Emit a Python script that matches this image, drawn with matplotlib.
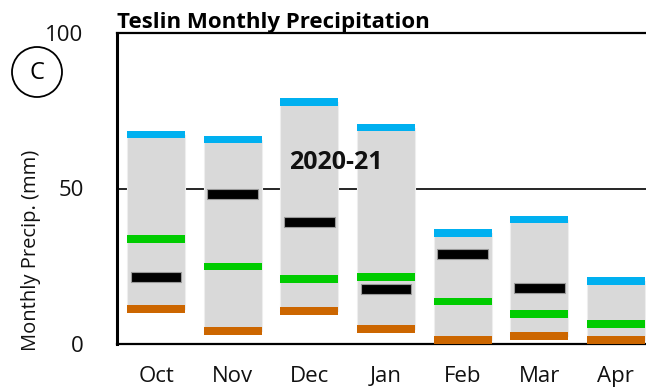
import matplotlib
matplotlib.use("Agg")
import matplotlib.pyplot as plt
from matplotlib.patches import Ellipse
import numpy as np

# monthly precipitation (mm)
months = ["Oct", "Nov", "Dec", "Jan", "Feb", "Mar", "Apr"]
max_precip = [67.3, 65.7, 77.8, 69.6, 35.7, 40.0, 20.3]
median_precip = [33.8, 24.9, 20.9, 21.5, 13.7, 9.7, 6.5]
min_precip = [11.4, 4.3, 10.7, 4.7, 1.3, 2.7, 1.3]
season_2020_21 = [21.4, 48.3, 39.2, 17.7, 28.9, 18.0, np.nan]

plt.rcParams['font.family'] = ['Open Sans', 'DejaVu Sans']

fig = plt.figure(figsize=(6.46, 3.91), dpi=100)
ax = fig.add_axes([117 / 646, 47 / 391, 538 / 646, 311 / 391])

x = np.arange(len(months))
width = 0.76
mx = np.array(max_precip)
mn = np.array(min_precip)

# 50 mm reference line behind the bars
ax.axhline(50, color="black", lw=1.2, zorder=0)

ax.bar(x, mx - mn, bottom=mn, width=width, color="#d9d9d9",
       edgecolor="#eeeeee", lw=0.8, zorder=1)

def band(vals, thick, color, w=width, edge="none"):
    v = np.array(vals, dtype=float)
    ok = ~np.isnan(v)
    ax.bar(x[ok], thick, bottom=v[ok] - thick / 2, width=w, color=color,
           edgecolor=edge, lw=0.8, zorder=3)

band(max_precip, 2.4, "#00b0f0")
band(median_precip, 2.4, "#00cc00")
band(min_precip, 2.6, "#cc6600")
band(season_2020_21, 3.2, "black", w=0.66, edge="#999999")

ax.text(2.34, 58.2, "2020-21", ha="center", va="center", fontsize=18,
        fontweight="bold", zorder=4, color="#111111")

ax.set_xlim(-0.51, 6.51)
ax.set_ylim(0, 100)
ax.set_yticks([0, 50, 100])
ax.set_xticks(x)
ax.set_xticklabels(months)
ax.tick_params(axis="both", length=0, labelsize=16, colors="#111111")
ax.tick_params(axis="x", pad=16)
ax.tick_params(axis="y", pad=24)

ax.spines["left"].set_linewidth(2.2)
for s in ["top", "bottom"]:
    ax.spines[s].set_linewidth(1.6)
ax.spines["right"].set_visible(False)

ax.set_title("Teslin Monthly Precipitation", loc="left", fontsize=16,
             fontweight="bold", pad=1, x=0.0)

fig.text(31 / 646, 1 - 250 / 391, "Monthly Precip. (mm)", rotation=90,
         ha="center", va="center", fontsize=14.5, color="#111111")

# circled panel letter
fig.patches.append(Ellipse((37 / 646, 1 - 72 / 391), 50 / 646, 50 / 391,
                           transform=fig.transFigure, fill=False,
                           edgecolor="black", lw=1.3))
fig.text(37 / 646, 1 - 73 / 391, "C", ha="center", va="center", fontsize=17)

fig.savefig("out.png", dpi=100)
